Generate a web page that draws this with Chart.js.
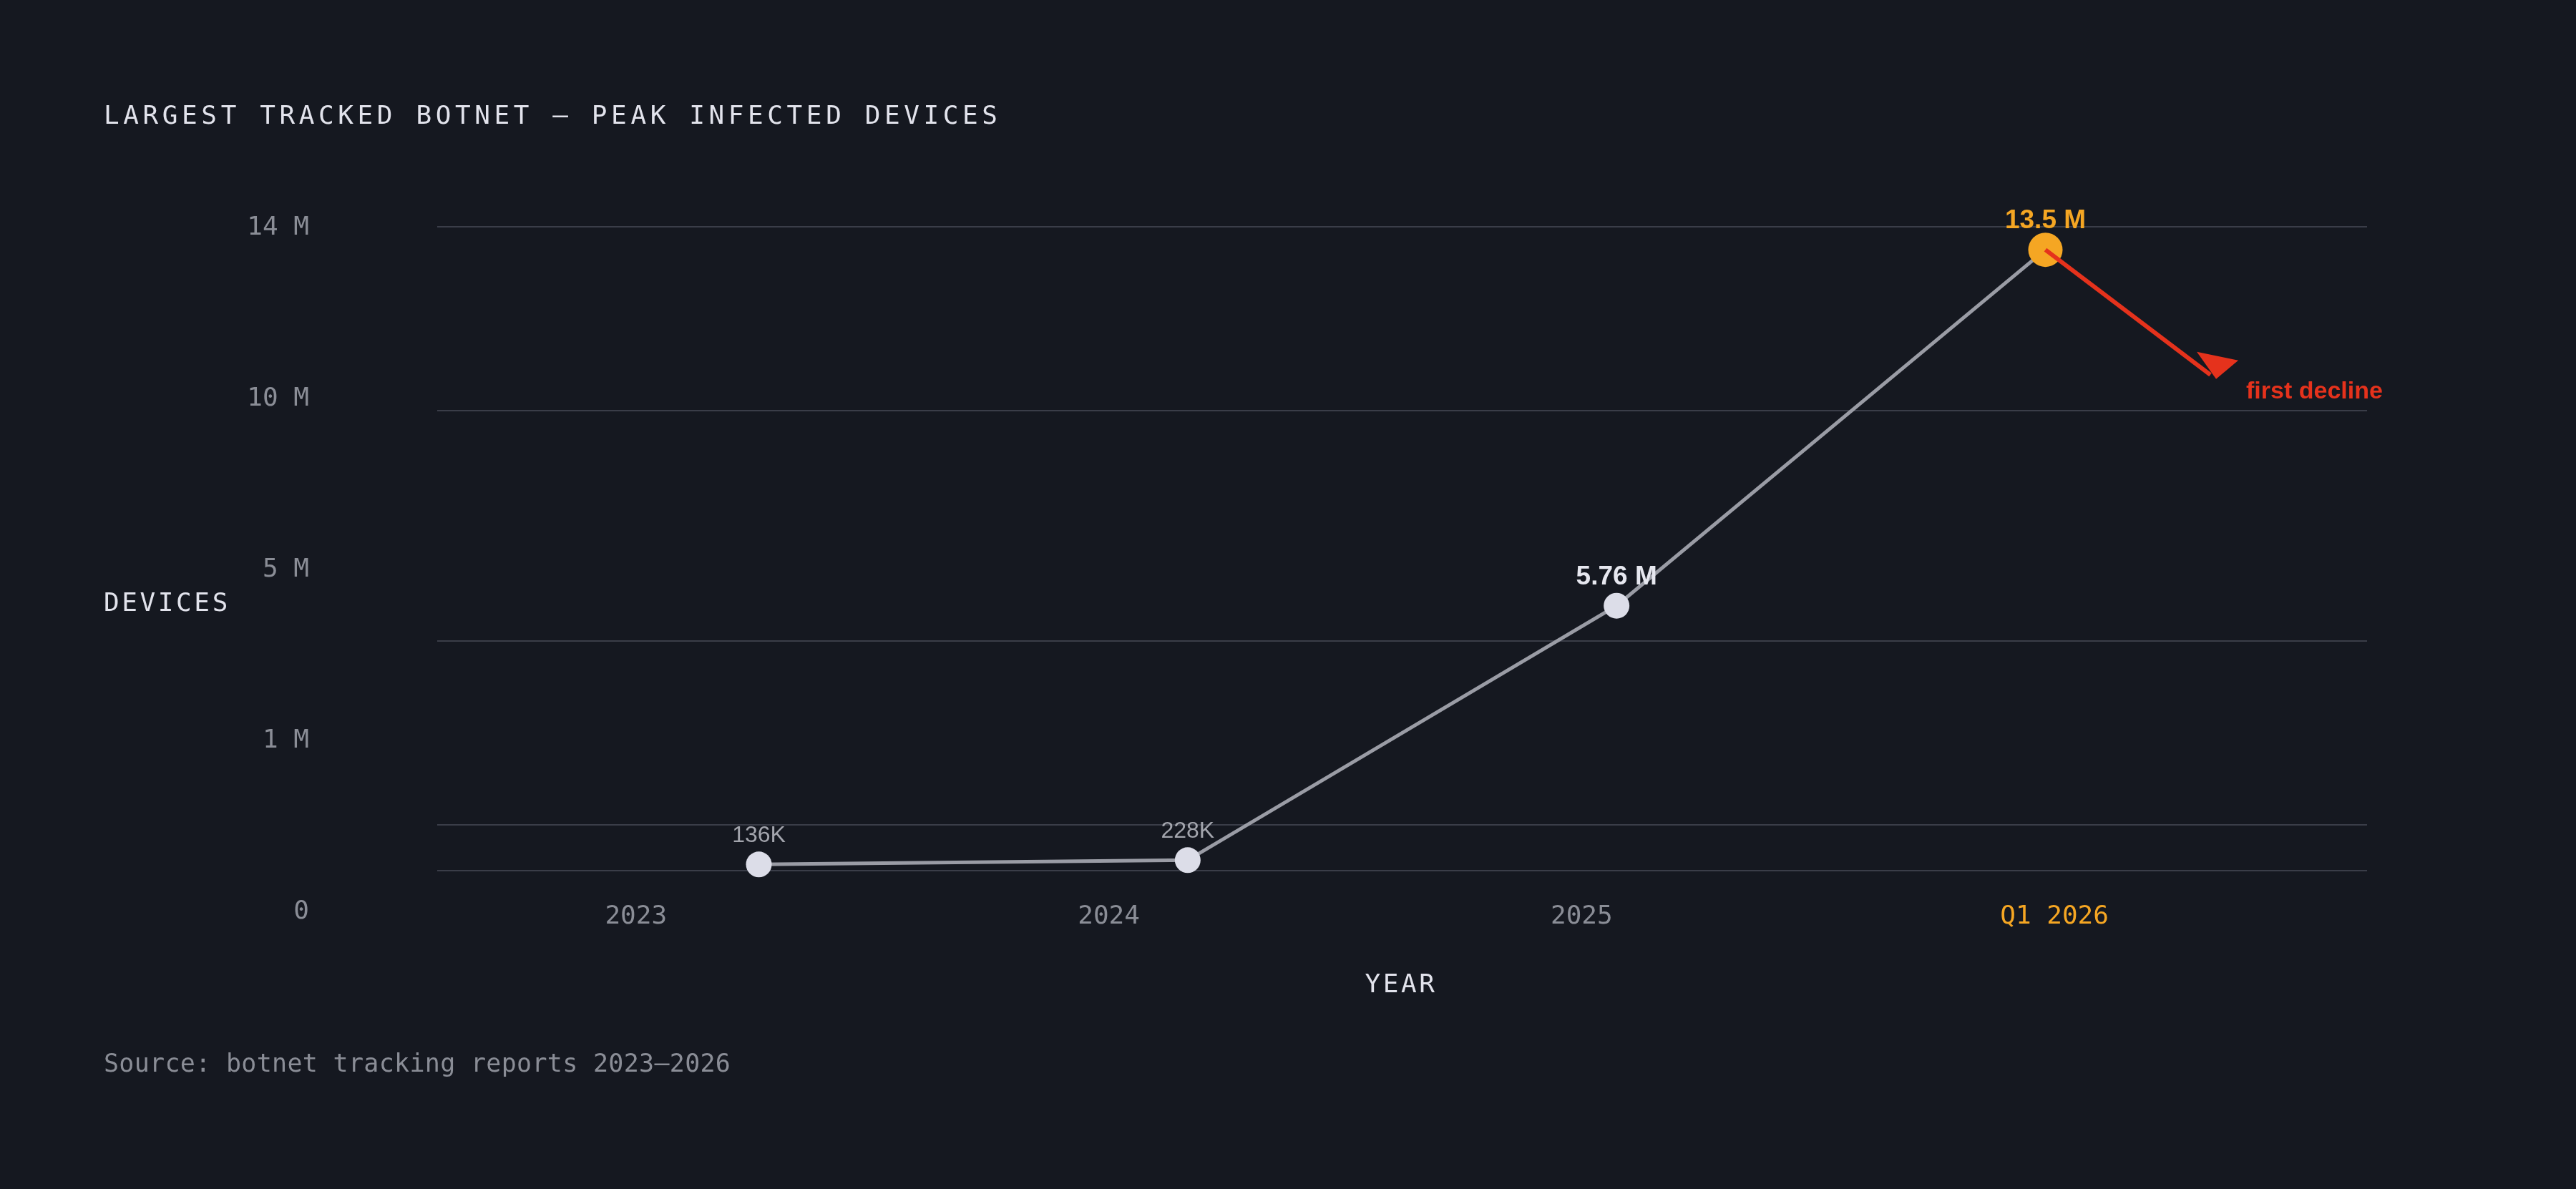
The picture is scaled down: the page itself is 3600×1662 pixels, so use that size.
<!DOCTYPE html>
<html><head><meta charset="utf-8">
<script src="https://cdn.jsdelivr.net/npm/chart.js@4"></script>
<style>html,body{margin:0;padding:0;background:#151820;}canvas{display:block;}</style>
</head><body>
<div style="width:3600px;height:1662px;position:relative"><canvas id="c" width="3600" height="1662"></canvas></div>
<script>
const categories = ['2023', '2024', '2025', 'Q1 2026'];
const values = [136000, 228000, 5760000, 13500000];
const pointLabels = ['136K', '228K', '5.76 M', '13.5 M'];
const gridValues = [0, 1000000, 5000000, 10000000, 14000000];
const yTickLabels = ['14 M', '10 M', '5 M', '1 M', '0'];
const arrowEnd = {x: 3.398, y: 10690000};

const mono = '"DejaVu Sans Mono", monospace';
const sans = '"Liberation Sans", Arial, sans-serif';
const BG = '#151820', GREY = '#8a8d96', ORANGE = '#f5a623', RED = '#e5321c';

const deco = {
  id: 'deco',
  beforeDraw(chart) {
    const c = chart.ctx; c.save(); c.fillStyle = BG; c.fillRect(0, 0, chart.width, chart.height); c.restore();
  },
  afterDraw(chart) {
    const c = chart.ctx, xs = chart.scales.x, ys = chart.scales.y, a = chart.chartArea;
    c.save();
    c.textBaseline = 'middle';
    c.letterSpacing = '5.6px';
    c.font = '36px ' + mono; c.fillStyle = '#e2e3ec'; c.textAlign = 'left';
    c.fillText('LARGEST TRACKED BOTNET — PEAK INFECTED DEVICES', 145, 164);
    c.letterSpacing = '3.6px';
    c.fillText('DEVICES', 145, 845);
    c.textAlign = 'center';
    c.fillText('YEAR', 1958, 1378);
    c.letterSpacing = '0.3px';
    c.textAlign = 'left'; c.fillStyle = GREY; c.font = '35px ' + mono;
    c.fillText('Source: botnet tracking reports 2023–2026', 145, 1489);
    c.letterSpacing = '0px';
    c.font = '36px ' + mono; c.textAlign = 'right'; c.fillStyle = GREY;
    const y0 = ys.getPixelForValue(14000000) + 2, step = 239;
    yTickLabels.forEach((t, i) => c.fillText(t, 432, y0 + i * step));
    c.textAlign = 'center';
    categories.forEach((t, i) => {
      c.fillStyle = i === 3 ? ORANGE : GREY;
      c.fillText(t, a.left + (a.right - a.left) * (0.103 + i * 0.245), 1282);
    });
    values.forEach((v, i) => {
      const px = xs.getPixelForValue(i), py = ys.getPixelForValue(v);
      if (i < 2) { c.font = '32px ' + sans; c.fillStyle = '#a3a5ad'; }
      else { c.font = 'bold 37px ' + sans; c.fillStyle = i === 3 ? ORANGE : '#e6e7ef'; }
      c.fillText(pointLabels[i], px, py - 40);
    });
    const sx = xs.getPixelForValue(3), sy = ys.getPixelForValue(values[3]);
    const ex = xs.getPixelForValue(arrowEnd.x), ey = ys.getPixelForValue(arrowEnd.y);
    c.strokeStyle = RED; c.lineWidth = 6;
    c.beginPath(); c.moveTo(sx, sy); c.lineTo(ex - 8, ey - 6); c.stroke();
    c.fillStyle = RED; c.beginPath();
    c.moveTo(ex, ey); c.lineTo(ex - 27, ey - 38); c.lineTo(ex + 31, ey - 26); c.closePath(); c.fill();
    c.font = 'bold 34px ' + sans; c.textAlign = 'left'; c.textBaseline = 'alphabetic';
    c.fillText('first decline', ex + 42, ey + 27);
    c.restore();
  }
};

new Chart(document.getElementById('c'), {
  type: 'line',
  data: { datasets: [{
    data: values.map((v, i) => ({x: i, y: v})),
    borderColor: '#9a9ca5', borderWidth: 5, clip: false,
    pointRadius: values.map((v, i) => i === 3 ? 24 : 18),
    pointBackgroundColor: values.map((v, i) => i === 3 ? ORANGE : '#dcdde8'),
    pointBorderWidth: 0, tension: 0
  }]},
  options: {
    responsive: false, animation: false, devicePixelRatio: 1,
    layout: { padding: { left: 611, right: 292, top: 317, bottom: 445 } },
    plugins: { legend: { display: false }, tooltip: { enabled: false } },
    scales: {
      x: { type: 'linear', min: -0.75, max: 3.75, display: true,
        ticks: { display: false }, grid: { display: false }, border: { display: false },
        afterFit: s => { s.height = 0; } },
      y: { type: 'linear', min: 0, max: 14000000,
        afterBuildTicks: s => { s.ticks = gridValues.map(v => ({value: v})); },
        ticks: { display: false }, border: { display: false },
        grid: { color: '#3a3d48', lineWidth: 2, drawTicks: false },
        afterFit: s => { s.width = 0; } }
    }
  },
  plugins: [deco]
});
</script>
</body></html>
